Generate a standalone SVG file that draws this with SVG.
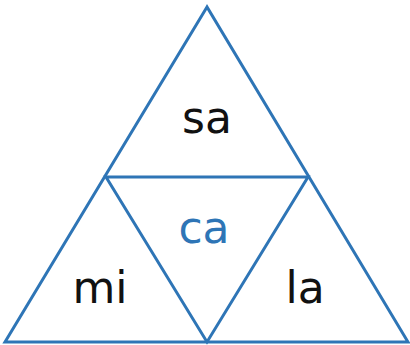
<svg xmlns="http://www.w3.org/2000/svg" width="410" height="345" viewBox="0 0 410 345">
<style>
.edge{fill:none;stroke:#2e75b6;stroke-width:3;stroke-linejoin:miter}
.lbl{font-family:"DejaVu Sans",sans-serif;font-size:44px;text-anchor:middle;fill:#111}
.blue{fill:#2e75b6}
</style>
<rect width="410" height="345" fill="#fff"/>
<g id="connectors">
<polygon class="edge" points="207,7 5,342 408,342"/>
<polygon class="edge" points="106,177 308,177 207,342"/>
</g>
<g id="sa"><text class="lbl" x="207" y="133">sa</text></g>
<g id="mi"><text class="lbl" x="100" y="303">mi</text></g>
<g id="la"><text class="lbl" x="305" y="303">la</text></g>
<g id="ca"><text class="lbl blue" x="204" y="243">ca</text></g>
</svg>
